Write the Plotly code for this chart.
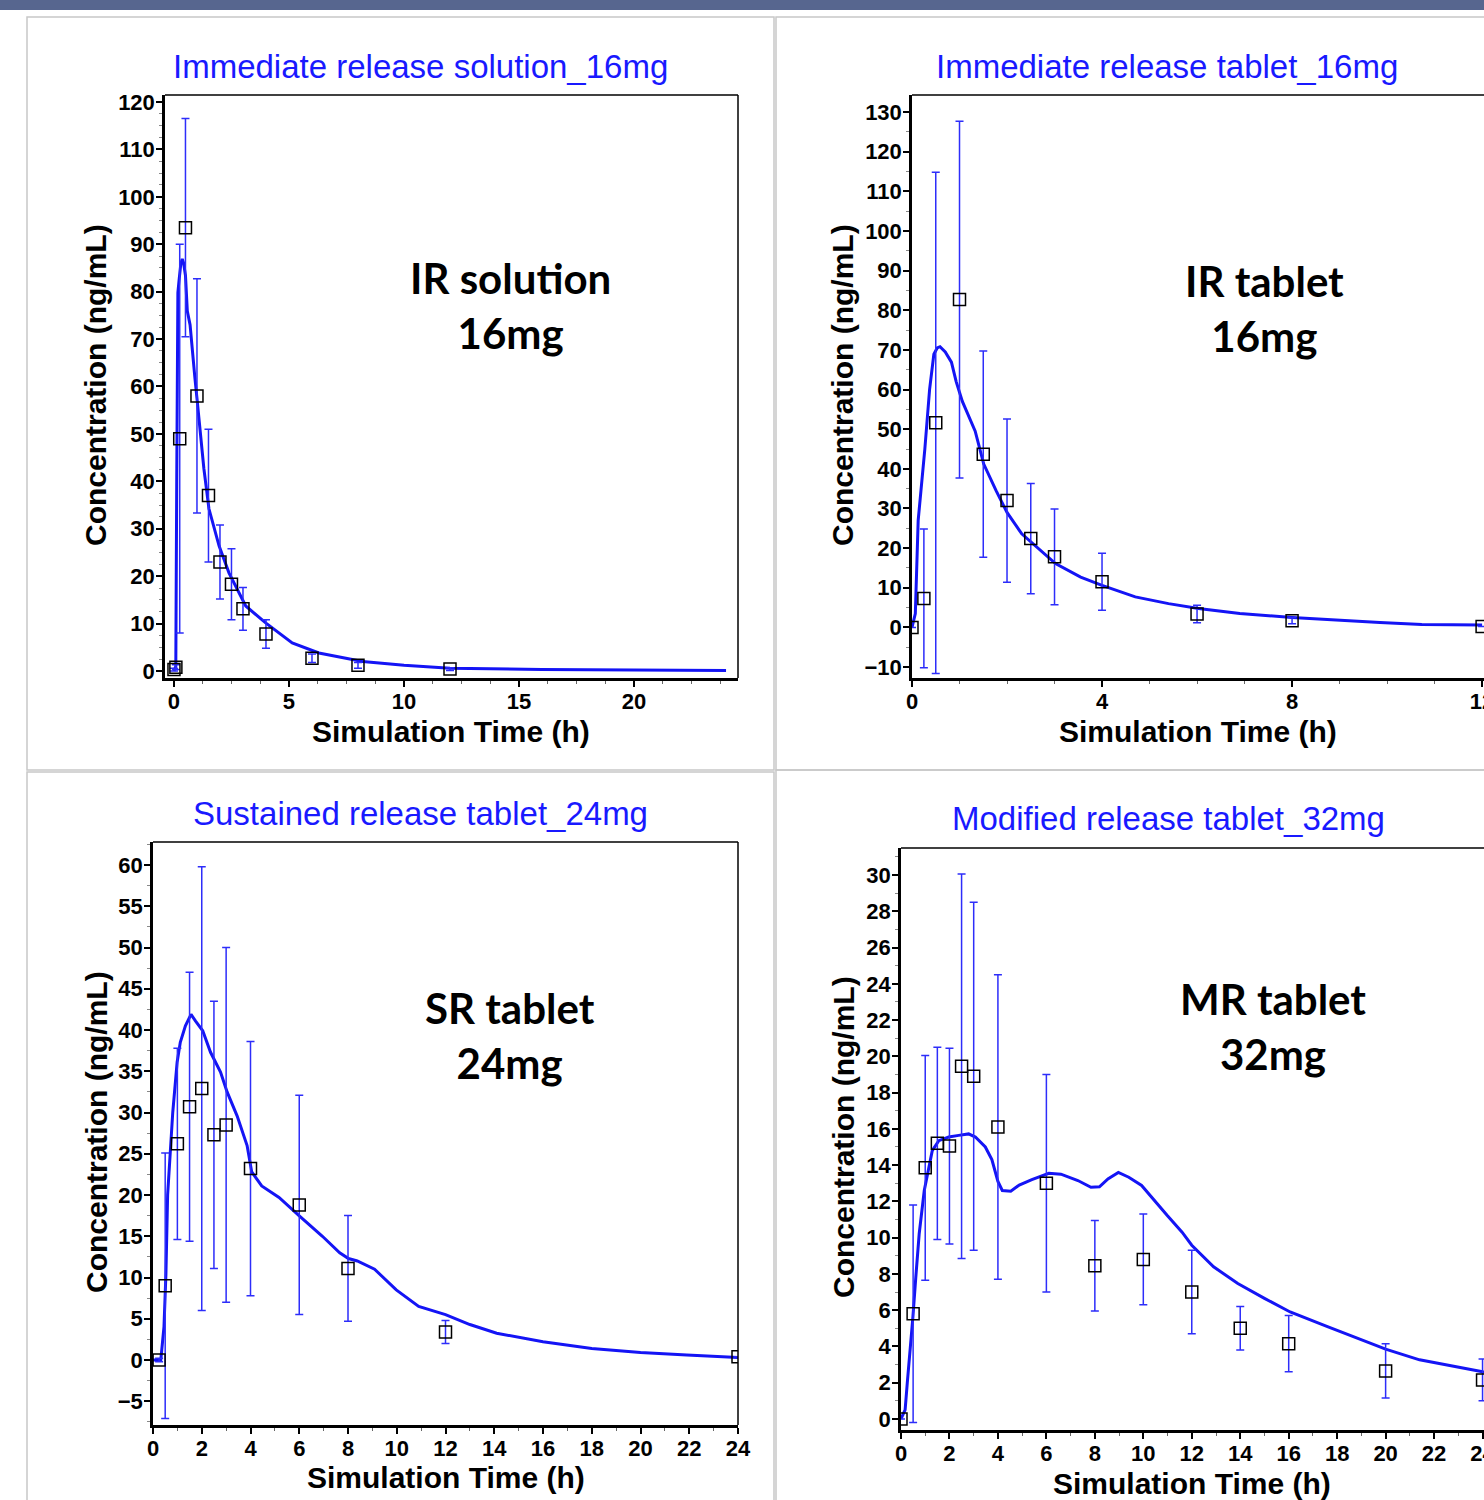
import plotly.graph_objects as go

W, H = 1484, 1500

# ---------------- data ----------------
# Panel 1: Immediate release solution 16 mg
irsol_obs_t = [0, 0.083, 0.25, 0.5, 1, 1.5, 2, 2.5, 3, 4, 6, 8, 12]
irsol_obs_c = [0.3, 0.8, 49, 93.5, 58, 37, 23, 18.3, 13.1, 7.8, 2.7, 1.2, 0.4]
irsol_obs_sd = [0.3, 0.5, 41, 23, 24.7, 14, 7.8, 7.5, 4.5, 3, 0.9, 0.6, 0.3]
irsol_sim_t = [0, 0.08, 0.12, 0.17, 0.22, 0.3, 0.36, 0.42, 0.5, 0.58, 0.7, 0.8, 0.91,
               1.0, 1.3, 1.52, 1.96, 2.39, 3.12, 4.0, 5.14, 6.3, 8.2, 10, 12, 16, 20, 24]
irsol_sim_c = [0, 1, 40, 79.8, 82.3, 86, 86.9, 86, 83.4, 75.9, 73, 66.7, 61.8,
               57.5, 42.7, 34.2, 26.4, 20.7, 13.7, 10.1, 5.9, 3.8, 2.0, 1.2, 0.6, 0.3, 0.15, 0.1]

# Panel 2: Immediate release tablet 16 mg
irtab_obs_t = [0, 0.25, 0.5, 1, 1.5, 2, 2.5, 3, 4, 6, 8, 12]
irtab_obs_c = [0, 7.3, 51.6, 82.7, 43.7, 32.0, 22.4, 17.8, 11.5, 3.4, 1.7, 0.2]
irtab_obs_sd = [0, 17.5, 63.2, 45, 26, 20.6, 13.9, 12.1, 7.2, 2.2, 0.8, 0]
irtab_sim_t = [0, 0.07, 0.13, 0.18, 0.27, 0.37, 0.46, 0.53, 0.59, 0.7, 0.83, 0.93, 1.06,
               1.33, 1.51, 1.77, 2.0, 2.31, 2.66, 3.02, 3.55, 4.0, 4.7, 5.4, 6.03, 6.9,
               8.0, 9.05, 9.85, 10.73, 12.0]
irtab_sim_c = [0, 3.5, 27, 33, 45, 60, 68.9, 70.5, 70.8, 69.5, 66.9, 62, 57,
               49.5, 41.2, 34.5, 29, 23.6, 19.8, 16.1, 12.7, 10.6, 7.7, 6.0, 4.8, 3.5,
               2.5, 1.7, 1.25, 0.75, 0.6]

# Panel 3: Sustained release tablet 24 mg
sr_obs_t = [0.25, 0.5, 1, 1.5, 2, 2.5, 3, 4, 6, 8, 12, 24]
sr_obs_c = [0, 9.0, 26.2, 30.7, 32.9, 27.3, 28.5, 23.2, 18.8, 11.1, 3.4, 0.4]
sr_obs_sd = [0.2, 16.1, 11.6, 16.3, 26.9, 16.2, 21.5, 15.4, 13.3, 6.4, 1.4, 0]
sr_sim_t = [0, 0.32, 0.45, 0.53, 0.6, 0.7, 0.81, 0.99, 1.12, 1.33, 1.56, 1.74, 2.04,
            2.36, 2.77, 3.04, 3.45, 3.86, 4.05, 4.46, 5.17, 5.99, 6.95, 7.66, 8.02,
            8.38, 9.09, 9.98, 10.9, 12.0, 13.0, 14.1, 16.0, 18.0, 20.0, 21.9, 24]
sr_sim_c = [0, 0, 4, 10.4, 20, 25, 30, 36.1, 38.5, 40.5, 41.9, 41.1, 39.9,
            37.3, 34.9, 32.5, 29.6, 26.0, 22.8, 21.1, 19.7, 17.5, 15.0, 13.0, 12.3,
            12.0, 11.0, 8.5, 6.5, 5.5, 4.3, 3.25, 2.2, 1.4, 0.9, 0.6, 0.3]

# Panel 4: Modified release tablet 32 mg
mr_obs_t = [0, 0.5, 1, 1.5, 2, 2.5, 3, 4, 6, 8, 10, 12, 14, 16, 20, 24]
mr_obs_c = [0, 5.8, 13.85, 15.2, 15.05, 19.45, 18.9, 16.1, 13.0, 8.45, 8.8, 7.0, 5.0, 4.15, 2.65, 2.15]
mr_obs_sd = [0, 6.0, 6.2, 5.3, 5.4, 10.6, 9.6, 8.4, 6.0, 2.5, 2.5, 2.3, 1.2, 1.55, 1.5, 1.15]
mr_sim_t = [0, 0.17, 0.26, 0.35, 0.49, 0.61, 0.75, 0.96, 1.15, 1.29, 1.56, 1.97, 2.38,
            2.79, 3.07, 3.48, 3.75, 4.0, 4.18, 4.53, 4.88, 5.4, 6.1, 6.6, 7.3, 7.84,
            8.19, 8.54, 8.97, 9.4, 9.93, 10.45, 10.98, 11.6, 12.0, 12.9, 13.9, 15.0,
            16.06, 17.6, 19.0, 20.0, 21.4, 22.8, 24.0, 24.5]
mr_sim_c = [0, 0.5, 2.0, 3.3, 5.6, 7.8, 10.2, 12.6, 13.9, 14.8, 15.35, 15.55, 15.64,
            15.72, 15.55, 15.0, 14.3, 13.1, 12.6, 12.56, 12.9, 13.2, 13.55, 13.5, 13.15, 12.78,
            12.8, 13.24, 13.6, 13.33, 12.88, 12.05, 11.23, 10.3, 9.58, 8.39, 7.47, 6.65,
            5.9, 5.09, 4.36, 3.85, 3.26, 2.89, 2.6, 2.5]

titles = ["Immediate release solution_16mg", "Immediate release tablet_16mg",
          "Sustained release tablet_24mg", "Modified release tablet_32mg"]
labels = ["IR solution<br>16mg", "IR tablet<br>16mg", "SR tablet<br>24mg", "MR tablet<br>32mg"]
x_title = "Simulation Time (h)"
y_title = "Concentration (ng/mL)"

# ---------------- layout helpers ----------------
def px(x):
    return x / W

def py(y):
    return 1 - y / H

panels = [
    dict(obs=(irsol_obs_t, irsol_obs_c, irsol_obs_sd), sim=(irsol_sim_t, irsol_sim_c),
         box=(165, 738, 95, 678), xr=[-0.39, 24.52], yr=[-1.48, 121.47],
         xt=[0, 5, 10, 15, 20], yt=list(range(0, 121, 10)), xm=1.25, ym=2.5,
         title=(420, 66), ytl=(96, 385), xtl=(451, 731), lab=(510, 306)),
    dict(obs=(irtab_obs_t, irtab_obs_c, irtab_obs_sd), sim=(irtab_sim_t, irtab_sim_c),
         box=(912, W, 95, 678), xr=[0, 12.04], yr=[-12.76, 134.3],
         xt=[0, 4, 8, 12], yt=list(range(-10, 131, 10)), xm=1, ym=5,
         title=(1167, 66), ytl=(843, 385), xtl=(1198, 731), lab=(1264, 308)),
    dict(obs=(sr_obs_t, sr_obs_c, sr_obs_sd), sim=(sr_sim_t, sr_sim_c),
         box=(153, 738, 842, 1425), xr=[0, 24], yr=[-7.88, 62.79],
         xt=list(range(0, 25, 2)), yt=list(range(-5, 61, 5)), xm=1, ym=2.5,
         title=(421, 813), ytl=(96, 1132), xtl=(446, 1477), lab=(510, 1035)),
    dict(obs=(mr_obs_t, mr_obs_c, mr_obs_sd), sim=(mr_sim_t, mr_sim_c),
         box=(901, W, 848, 1430), xr=[0, 24.06], yr=[-0.61, 31.49],
         xt=list(range(0, 25, 2)), yt=list(range(0, 31, 2)), xm=1, ym=1,
         title=(1168, 818), ytl=(843, 1137), xtl=(1192, 1483), lab=(1273, 1026)),
]

AX_FONT = "Liberation Sans, Arial, sans-serif"
BLUE_LINE = "rgb(20,20,245)"
BLUE_ERR = "rgb(45,45,250)"

fig = go.Figure()
layout = dict(width=W, height=H, autosize=False,
              margin=dict(l=0, r=0, t=0, b=0, pad=0, autoexpand=False),
              paper_bgcolor="white", plot_bgcolor="white", showlegend=False)
shapes = []
annotations = []

# background decorations: top band and panel frames
shapes.append(dict(type="rect", xref="paper", yref="paper", x0=0, x1=1, y0=py(10), y1=1,
                   fillcolor="#57668F", line=dict(width=0), layer="below"))
for (x0, x1, y0, y1) in [(27, 774, 17, 770), (776, 1500, 17, 770),
                         (27, 774, 772, 1510), (776, 1500, 770, 1510)]:
    shapes.append(dict(type="rect", xref="paper", yref="paper",
                       x0=px(x0), x1=px(x1), y0=py(y1), y1=py(y0),
                       line=dict(color="#C8C8C8", width=1.5), fillcolor="rgba(0,0,0,0)",
                       layer="below"))

for i, p in enumerate(panels):
    n = "" if i == 0 else str(i + 1)
    xa, ya = "x" + n, "y" + n
    bx0, bx1, by0, by1 = p["box"]
    t, c = p["sim"]
    fig.add_trace(go.Scatter(x=t, y=c, mode="lines", xaxis=xa, yaxis=ya,
                             line=dict(color=BLUE_LINE, width=3), hoverinfo="skip"))
    ot, oc, osd = p["obs"]
    fig.add_trace(go.Scatter(x=ot, y=oc, mode="markers", xaxis=xa, yaxis=ya,
                             marker=dict(symbol="square-open", size=12, color="black",
                                         line=dict(color="black", width=1.5)),
                             error_y=dict(type="data", array=osd, visible=True,
                                          color=BLUE_ERR, thickness=1.5, width=4)))
    tickfont = dict(family=AX_FONT, size=22, color="black", weight="bold")
    layout["xaxis" + n] = dict(
        domain=[px(bx0), min(px(bx1), 1.0)], range=p["xr"], anchor=ya, automargin=False,
        tickvals=p["xt"], ticks="outside", ticklen=6, tickwidth=2, tickcolor="black",
        showline=True, linewidth=2.5, linecolor="black", showgrid=False, zeroline=False,
        tickfont=tickfont, ticklabelstandoff=-4, ticklabeloverflow="allow",
        minor=dict(dtick=p["xm"], ticks="outside", ticklen=3, tickcolor="#666", tickwidth=1),
    )
    layout["yaxis" + n] = dict(
        domain=[py(by1), py(by0)], range=p["yr"], anchor=xa, automargin=False,
        tickvals=p["yt"], ticks="outside", ticklen=6, tickwidth=2, tickcolor="black",
        showline=True, linewidth=2.5, linecolor="black", showgrid=False, zeroline=False,
        tickfont=tickfont, ticklabelstandoff=-3, ticklabeloverflow="allow",
        minor=dict(dtick=p["ym"], ticks="outside", ticklen=3, tickcolor="#888", tickwidth=1),
    )
    # top (and right) thin frame lines
    shapes.append(dict(type="line", xref="paper", yref="paper",
                       x0=px(bx0), x1=min(px(bx1), 1.0), y0=py(by0), y1=py(by0),
                       line=dict(color="black", width=1.5)))
    if bx1 < W:
        shapes.append(dict(type="line", xref="paper", yref="paper",
                           x0=px(bx1), x1=px(bx1), y0=py(by1), y1=py(by0),
                           line=dict(color="black", width=1.5)))
    # texts
    annotations.append(dict(text=titles[i], x=px(p["title"][0]), y=py(p["title"][1]),
                            xref="paper", yref="paper", showarrow=False,
                            xanchor="center", yanchor="middle",
                            font=dict(family=AX_FONT, size=33, color="rgb(25,25,255)")))
    annotations.append(dict(text=y_title, x=px(p["ytl"][0]), y=py(p["ytl"][1]),
                            xref="paper", yref="paper", showarrow=False, textangle=-90,
                            xanchor="center", yanchor="middle",
                            font=dict(family=AX_FONT, size=30, color="black", weight="bold")))
    annotations.append(dict(text=x_title, x=px(p["xtl"][0]), y=py(p["xtl"][1]),
                            xref="paper", yref="paper", showarrow=False,
                            xanchor="center", yanchor="middle",
                            font=dict(family=AX_FONT, size=30, color="black", weight="bold")))
    annotations.append(dict(text=labels[i], x=px(p["lab"][0]), y=py(p["lab"][1]),
                            xref="paper", yref="paper", showarrow=False,
                            xanchor="center", yanchor="middle",
                            font=dict(family="Lato, Carlito, sans-serif", size=42,
                                      color="black", weight="bold")))

layout["shapes"] = shapes
layout["annotations"] = annotations
fig.update_layout(**layout)
fig.write_html("out.html",
               config={"responsive": False, "displayModeBar": False},
               post_script="document.body.style.margin='0px';"
                           "document.body.style.overflow='hidden';")
